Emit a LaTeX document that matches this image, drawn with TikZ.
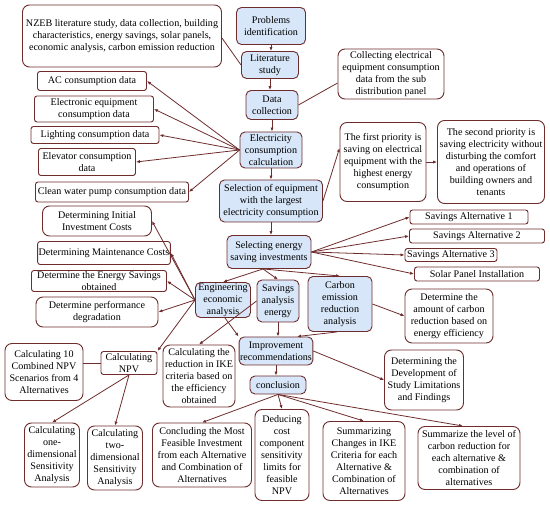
\documentclass[tikz,border=0pt]{standalone}
\usepackage{fontspec}
\setmainfont{Liberation Serif}
\usepackage{xcolor}
\usepackage{tikz}
\usetikzlibrary{positioning,arrows.meta}
\definecolor{stepfill}{HTML}{D7E6F8}
\definecolor{linecol}{HTML}{6E2C2C}
\tikzset{
  stepbox/.style={draw=linecol, line width=0.9pt, rounded corners=5pt, fill=stepfill, align=center, inner sep=1pt, font=\fontsize{10.1}{11.9}\selectfont},
  note/.style={draw=linecol, line width=0.9pt, rounded corners=7pt, fill=white, align=center, inner sep=1pt, font=\fontsize{10.1}{11.9}\selectfont},
  tag/.style={note, rounded corners=2.5pt},
  flow/.style={-{Latex[length=4pt,width=3.2pt]}, draw=linecol, line width=0.8pt},
  link/.style={draw=linecol, line width=0.8pt}
}

\begin{document}
\begin{tikzpicture}[x=1pt, y=-1pt]
  \useasboundingbox (0,0) rectangle (550,505);

  % main column
  \node[stepbox, minimum width=69, minimum height=37] (prob) at (271,26) {Problems\\identification};
  \node[stepbox, minimum width=57, minimum height=27] (lit) at (270,65) {Literature\\study};
  \node[stepbox, minimum width=52, minimum height=29] (datacol) at (272,105) {Data\\collection};
  \node[stepbox, minimum width=62, minimum height=36] (elec) at (271,150) {Electricity\\consumption\\calculation};
  \node[stepbox, minimum width=103, minimum height=42] (select) at (271,201) {Selection of equipment\\with the largest\\electricity consumption};
  \node[stepbox, minimum width=84, minimum height=33] (invest) at (269,252) {Selecting energy\\saving investments};
  \node[stepbox, minimum width=55, minimum height=35] (econ) at (223,300) {Engineering\\economic\\analysis};
  \node[stepbox, minimum width=42, minimum height=42] (saving) at (278,301) {Savings\\analysis\\energy};
  \node[stepbox, minimum width=64, minimum height=55] (carbon) at (340,304) {Carbon\\emission\\reduction\\analysis};
  \node[stepbox, minimum width=73, minimum height=28] (improve) at (276,351) {Improvement\\recommendations};
  \node[stepbox, minimum width=56, minimum height=18] (concl) at (278,385) {conclusion};

  % notes round the column
  \node[note, minimum width=199, minimum height=62] (nzeb) at (122,36) {NZEB literature study, data collection, building\\characteristics, energy savings, solar panels,\\economic analysis, carbon emission reduction};
  \node[note, minimum width=106, minimum height=50] (collect) at (391,74) {Collecting electrical\\equipment consumption\\data from the sub\\distribution panel};
  \node[tag, minimum width=109, minimum height=19] (ac) at (92,81) {AC consumption data};
  \node[tag, minimum width=119, minimum height=26] (electronic) at (94,109) {Electronic equipment\\consumption data};
  \node[tag, minimum width=128, minimum height=17] (lighting) at (95,135) {Lighting consumption data};
  \node[tag, minimum width=97, minimum height=27] (elevator) at (87,162) {Elevator consumption\\data};
  \node[tag, minimum width=153, minimum height=20] (pump) at (112,192) {Clean water pump consumption data};
  \node[note, minimum width=86, minimum height=79] (first) at (383,162) {The first priority is\\saving on electrical\\equipment with the\\highest energy\\consumption};
  \node[note, minimum width=107, minimum height=83] (second) at (491,162) {The second priority is\\saving electricity without\\disturbing the comfort\\and operations of\\building owners and\\tenants};
  \node[tag, minimum width=118, minimum height=14] (alt1) at (469,217) {Savings Alternative 1};
  \node[tag, minimum width=135, minimum height=14] (alt2) at (477,236) {Savings Alternative 2};
  \node[tag, minimum width=92, minimum height=13] (alt3) at (451,255) {Savings Alternative 3};
  \node[tag, minimum width=125, minimum height=14] (solar) at (477,274) {Solar Panel Installation};
  \node[note, minimum width=109, minimum height=30] (initcost) at (97,221) {Determining Initial\\Investment Costs};
  \node[tag, minimum width=132, minimum height=23] (maint) at (104,253) {Determining Maintenance Costs};
  \node[tag, minimum width=135, minimum height=21] (esave) at (99,281) {Determine the Energy Savings\\obtained};
  \node[note, minimum width=122, minimum height=30] (degrad) at (97,312) {Determine performance\\degradation};
  \node[note, minimum width=88, minimum height=54] (carbonamt) at (449,316) {Determine the\\amount of carbon\\reduction based on\\energy efficiency};
  \node[note, minimum width=78, minimum height=57] (combined) at (44,372) {Calculating 10\\Combined NPV\\Scenarios from 4\\Alternatives};
  \node[tag, minimum width=56, minimum height=23] (npv) at (129,363) {Calculating\\NPV};
  \node[note, minimum width=72, minimum height=62] (ikered) at (199,376) {Calculating the\\reduction in IKE\\criteria based on\\the efficiency\\obtained};
  \node[note, minimum width=79, minimum height=60] (limits) at (424,380) {Determining the\\Development of\\Study Limitations\\and Findings};
  \node[note, minimum width=55, minimum height=64] (onedim) at (52,455) {Calculating\\one-\\dimensional\\Sensitivity\\Analysis};
  \node[note, minimum width=55, minimum height=64] (twodim) at (115,458) {Calculating\\two-\\dimensional\\Sensitivity\\Analysis};
  \node[note, minimum width=99, minimum height=64] (feasible) at (202,455) {Concluding the Most\\Feasible Investment\\from each Alternative\\and Combination of\\Alternatives};
  \node[note, minimum width=54, minimum height=91] (deduce) at (282,455) {Deducing\\cost\\component\\sensitivity\\limits for\\feasible\\NPV};
  \node[note, minimum width=82, minimum height=79] (summ) at (364,461) {Summarizing\\Changes in IKE\\Criteria for each\\Alternative \&\\Combination of\\Alternatives};
  \node[note, minimum width=102, minimum height=63] (carbsum) at (469,458) {Summarize the level of\\carbon reduction for\\each alternative \&\\combination of\\alternatives};

  % column arrows
  \draw[flow] (prob.south) -- (prob.south |- lit.north);
  \draw[flow] (lit.south) -- (lit.south |- datacol.north);
  \draw[flow] (datacol.south) -- (datacol.south |- elec.north);
  \draw[flow] (elec.south) -- (elec.south |- select.north);
  \draw[flow] (select.south) -- (select.south |- invest.north);
  \draw[flow] (improve.south) -- (improve.south |- concl.north);
  \draw[flow] (saving.south) -- (saving.south |- improve.north);

  % plain links
  \draw[link] ([yshift=-2pt]nzeb.east) -- (lit.west);
  \draw[link] (datacol.east) -- ([yshift=-9pt]collect.west);
  \draw[link] (npv.west) -- (npv.west -| combined.east);

  % fans
  \foreach \t in {ac,electronic,lighting,elevator,pump}
    \draw[flow] (elec.west) -- (\t.east);
  \foreach \t in {alt1,alt2,alt3,solar}
    \draw[flow] (invest.east) -- (\t.west);
  \foreach \t in {econ,saving,carbon}
    \draw[flow] ([xshift=-6pt]invest.south) -- (\t.north);
  \foreach \t in {initcost,maint,esave,degrad}
    \draw[flow] (econ.west) -- (\t.east);
  \foreach \t in {feasible,deduce,summ}
    \draw[flow] (concl.south) -- (\t.north);
  \draw[flow] (concl.south) -- ([xshift=-6pt]carbsum.north);

  \draw[flow] (select.east) -- ([yshift=14pt]first.west);
  \draw[flow] (first.east) -- (first.east -| second.west);
  \draw[flow] (carbon.east) -- (carbonamt.west);
  \draw[flow] (econ.west) -- (npv.north east);
  \draw[flow] ([xshift=2pt]econ.south) -- (improve.north west);
  \draw[flow] (saving.west) -- (ikered.north);
  \draw[flow] ([xshift=-3pt]carbon.south) -- ([xshift=21pt]improve.north);
  \draw[flow] (improve.east) -- (limits.west);
  \draw[flow] (npv.south) -- (onedim.north);
  \draw[flow] (npv.south) -- (twodim.north);
\end{tikzpicture}
\end{document}
